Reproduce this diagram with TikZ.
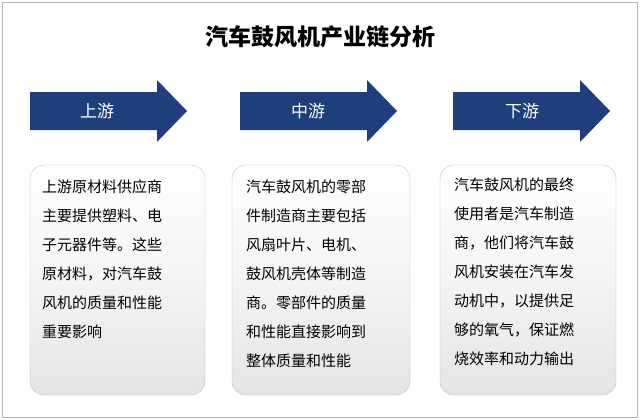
\documentclass[tikz,border=0pt]{standalone}
\usepackage{fontspec}
\setmainfont{Noto Sans CJK SC}
\definecolor{arr}{HTML}{1F3E7C}
\definecolor{boxg}{HTML}{E4E4E4}
\tikzset{
 arrfill/.style={fill=arr, draw=none},
 arrlabel/.style={text=white, font=\fontsize{17}{20}\selectfont},
 card/.style={rounded corners=14pt, draw=boxg!80!black, line width=0.3pt, top color=white, bottom color=boxg, middle color=boxg!40},
 cardtext/.style={anchor=north west, align=left, inner sep=0pt, font=\fontsize{15}{29}\selectfont},
}
\newcommand{\blockarrow}[1]{\fill[arrfill] (#1,92) -- ++(127,0) -- ++(0,-12) -- ++(30,31) -- ++(-30,31) -- ++(0,-12) -- ++(-127,0) -- cycle;}
\begin{document}
\begin{tikzpicture}[x=1pt,y=-1pt]
\useasboundingbox (0,0) rectangle (640,420);
\draw[gray!60,line width=0.6pt] (2,2) rectangle (637,417);
\node[font=\fontsize{23}{26}\selectfont\bfseries] (title) at (320,37) {汽车鼓风机产业链分析};
\blockarrow{30}
\blockarrow{240}
\blockarrow{453}
\node[arrlabel] (a1) at (97,111) {上游};
\node[arrlabel] (a2) at (308,111) {中游};
\node[arrlabel] (a3) at (522,111) {下游};
\draw[card] (30,165) rectangle (205,395);
\draw[card] (232,165) rectangle (410,395);
\draw[card] (440,165) rectangle (616,395);
\node[cardtext] (t1) at (42,180) {上游原材料供应商\\主要提供塑料、电\\子元器件等。这些\\原材料，对汽车鼓\\风机的质量和性能\\重要影响};
\node[cardtext] (t2) at (246,180) {汽车鼓风机的零部\\件制造商主要包括\\风扇叶片、电机、\\鼓风机壳体等制造\\商。零部件的质量\\和性能直接影响到\\整体质量和性能};
\node[cardtext] (t3) at (454,178) {汽车鼓风机的最终\\使用者是汽车制造\\商，他们将汽车鼓\\风机安装在汽车发\\动机中，以提供足\\够的氧气，保证燃\\烧效率和动力输出};
\end{tikzpicture}
\end{document}
